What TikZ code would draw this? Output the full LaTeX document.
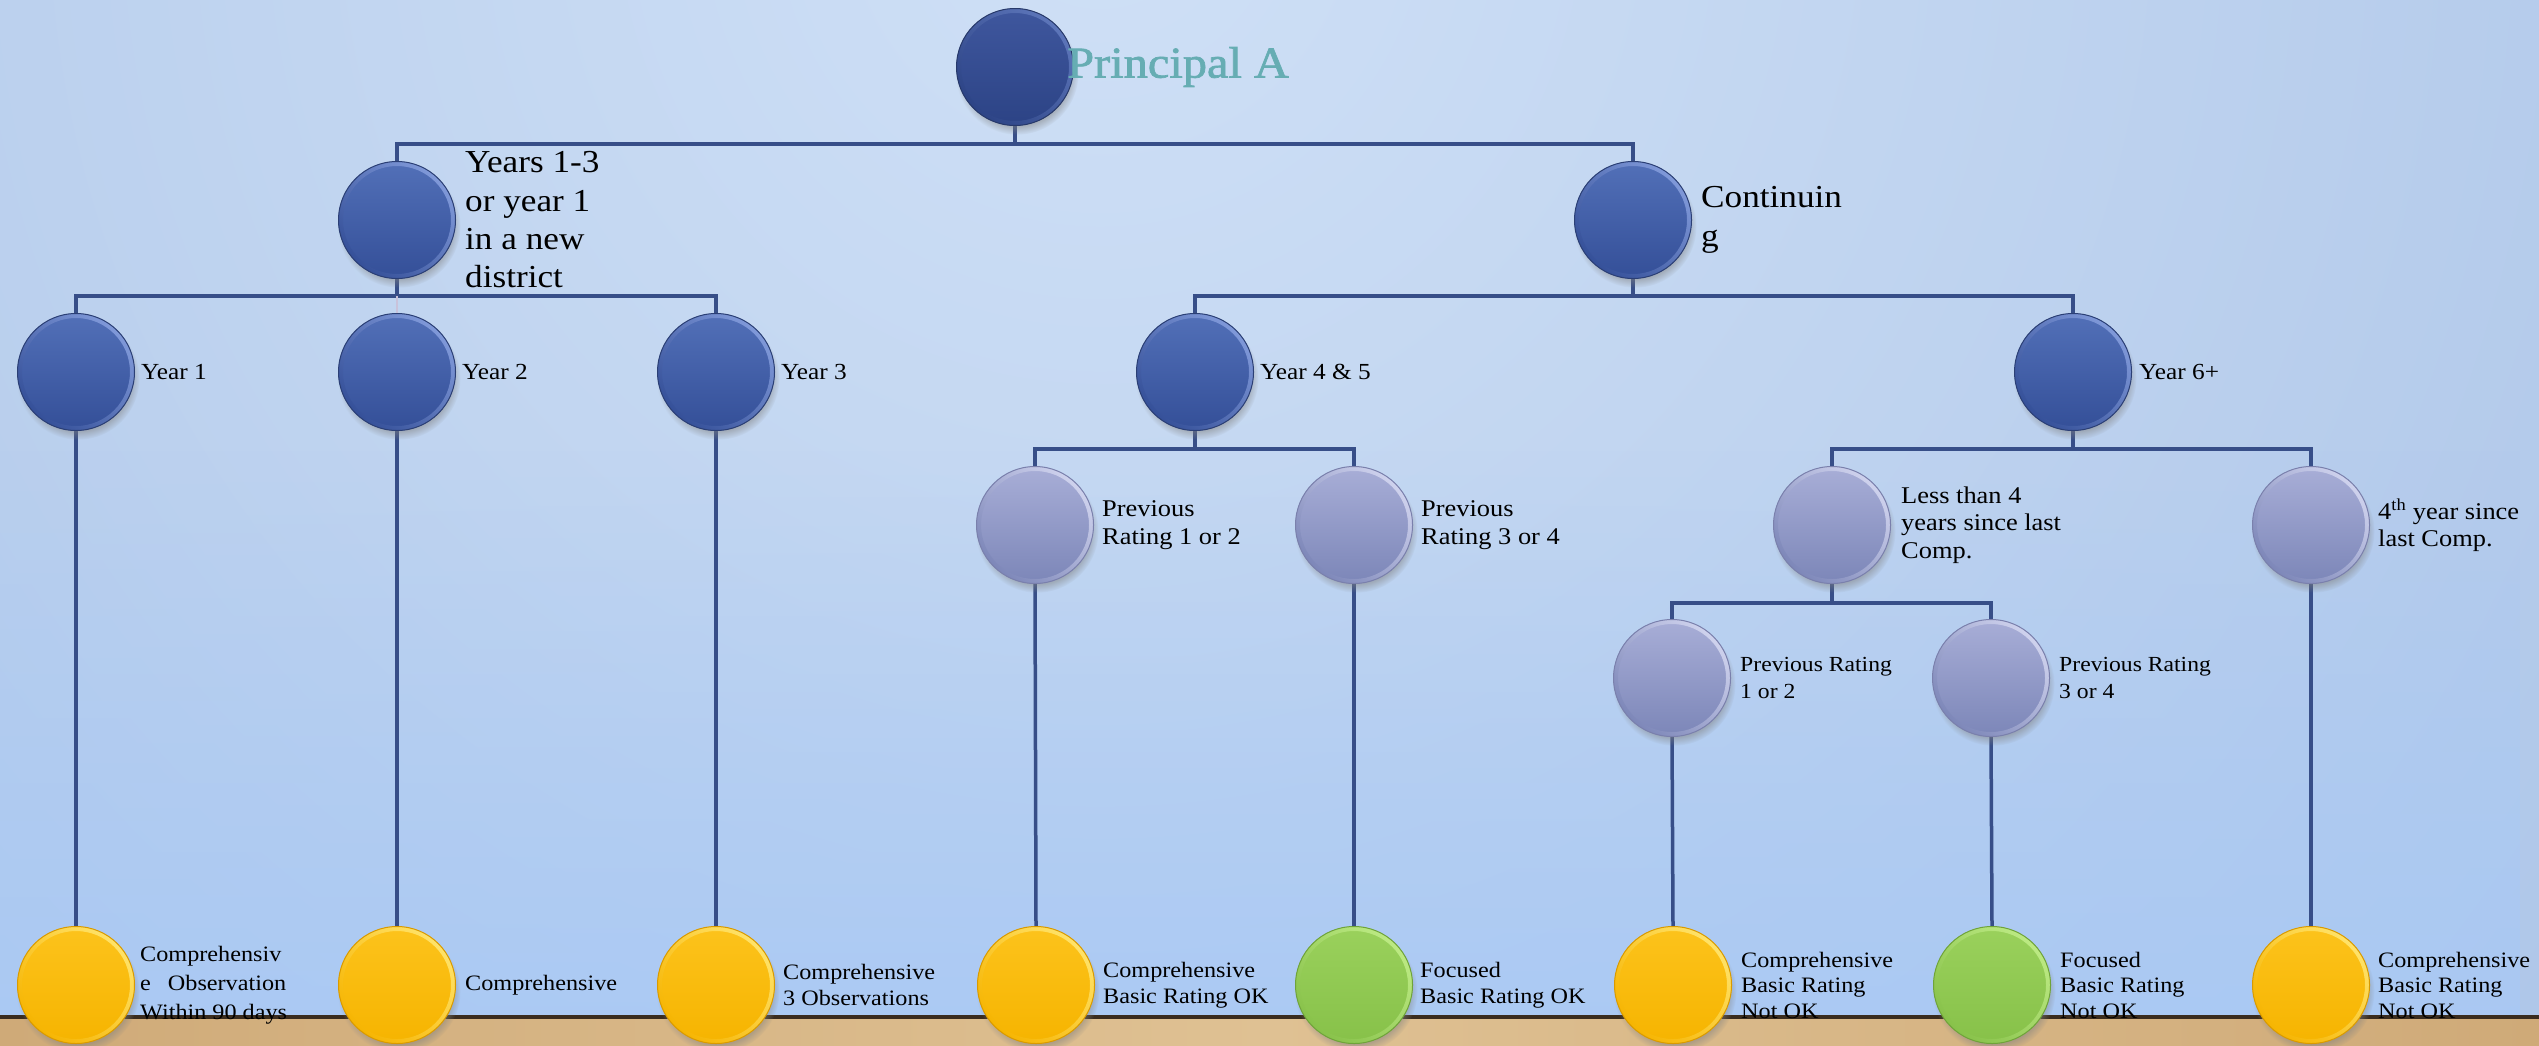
\documentclass[tikz,border=0pt]{standalone}
\usepackage{fontspec}
\setmainfont{Liberation Serif}[FakeStretch=1.1]
\newfontfamily\princfont{Liberation Serif}[FakeStretch=1.1, FakeBold=1.6]
\usetikzlibrary{shadows,fadings,positioning}
\pgfdeclarelayer{bg}
\pgfsetlayers{bg,main}
\definecolor{bgIn}{HTML}{CFE0F6}
\definecolor{bgOut}{HTML}{9CB8E1}
\definecolor{bgBot}{HTML}{A9C9F5}
\definecolor{floorA}{HTML}{CFAA78}
\definecolor{floorB}{HTML}{DFC193}
\definecolor{floorLine}{HTML}{3A2C1E}
\definecolor{connC}{HTML}{374E88}
\definecolor{faintC}{HTML}{C9C2DA}
\definecolor{teal}{HTML}{66ADB3}
% discs
\definecolor{bT}{HTML}{5270B8}\definecolor{bB}{HTML}{344F98}\definecolor{bR}{HTML}{819ADA}\definecolor{bO}{HTML}{2B3F75}
\definecolor{pT}{HTML}{3F579E}\definecolor{pB}{HTML}{2C4385}\definecolor{pR}{HTML}{5D76BA}\definecolor{pO}{HTML}{27396A}
\definecolor{vT}{HTML}{A8AED7}\definecolor{vB}{HTML}{7C86B8}\definecolor{vR}{HTML}{D0D3EE}\definecolor{vO}{HTML}{7A80AC}
\definecolor{yT}{HTML}{FCC31C}\definecolor{yB}{HTML}{F6B400}\definecolor{yR}{HTML}{FFE36A}\definecolor{yO}{HTML}{D99A00}
\definecolor{gT}{HTML}{9AD15C}\definecolor{gB}{HTML}{87C149}\definecolor{gR}{HTML}{BDEA84}\definecolor{gO}{HTML}{6FA33A}
\tikzset{
  disc/.style n args={4}{circle, minimum size=117pt, inner sep=0pt, draw=#4, line width=1pt,
    top color=#1, bottom color=#2,
    circular drop shadow={shadow xshift=2pt, shadow yshift=-6pt, shadow scale=1.05, opacity=0.5},
    path picture={\shade[even odd rule, top color=#3, bottom color=#2, shading angle=-45]
      (path picture bounding box.center) circle (60pt) (path picture bounding box.center) circle (54pt);}},
  bdisc/.style={disc={bT}{bB}{bR}{bO}},
  pdisc/.style={disc={pT}{pB}{pR}{pO}},
  vdisc/.style={disc={vT}{vB}{vR}{vO}},
  ydisc/.style={disc={yT}{yB}{yR}{yO}},
  gdisc/.style={disc={gT}{gB}{gR}{gO}},
  lbl/.style={anchor=west, inner sep=0pt, align=left, text=black},
  fA/.style={lbl, font={\fontsize{32}{38.3}\selectfont}},
  fB/.style={lbl, font={\fontsize{23}{28}\selectfont}},
  fC/.style={lbl, font={\fontsize{24}{27.5}\selectfont}},
  fD/.style={lbl, font={\fontsize{21.5}{27}\selectfont}},
  fE/.style={lbl, font={\fontsize{22}{25.5}\selectfont}},
  conn/.style={draw=connC, line width=3.5pt},
  faintconn/.style={draw=faintC, line width=2pt},
}
\begin{document}
\begin{tikzpicture}[x=1pt,y=-1pt]
\useasboundingbox (0,0) rectangle (2539,1045);
% background
\begin{pgfonlayer}{bg}
\begin{scope}
  \clip (0,0) rectangle (2539,1017);
  \shade[inner color=bgIn, outer color=bgOut] (1100,-100) circle (2900);
  \fill[bgBot, opacity=0.85, path fading=north] (0,450) rectangle (2539,1017);
\end{scope}
\shade[left color=floorA, right color=floorA, middle color=floorB] (0,1017) rectangle (2539,1045);
\fill[floorLine] (0,1015) rectangle (2539,1019);
\end{pgfonlayer}

% nodes
\node[pdisc] (P) at (1015,67) {};
\node[bdisc] (A) at (397,220) {};
\node[bdisc] (C) at (1633,220) {};
\node[bdisc] (Y1) at (76,372) {};
\node[bdisc] (Y2) at (397,372) {};
\node[bdisc] (Y3) at (716,372) {};
\node[bdisc] (Y45) at (1195,372) {};
\node[bdisc] (Y6) at (2073,372) {};
\node[vdisc] (R12) at (1035,525) {};
\node[vdisc] (R34) at (1354,525) {};
\node[vdisc] (LT) at (1832,525) {};
\node[vdisc] (FY) at (2311,525) {};
\node[vdisc] (Q12) at (1672,678) {};
\node[vdisc] (Q34) at (1991,678) {};
\node[ydisc] (L1) at (76,985) {};
\node[ydisc] (L2) at (397,985) {};
\node[ydisc] (L3) at (716,985) {};
\node[ydisc] (L4) at (1036,985) {};
\node[gdisc] (L5) at (1354,985) {};
\node[ydisc] (L6) at (1673,985) {};
\node[gdisc] (L7) at (1992,985) {};
\node[ydisc] (L8) at (2311,985) {};

% labels
\node[lbl, text=teal, font={\princfont\fontsize{44}{50}\selectfont}] (tP) at ([xshift=-7pt]P.east) {Principal A};
\node[fA, right=9pt of A] (tA) {Years 1-3\\or year 1\\in a new\\district};
\node[fA, right=9pt of C] (tC) {Continuin\\g};
\node[fB, right=6pt of Y1] (tY1) {Year 1};
\node[fB, right=6pt of Y2] (tY2) {Year 2};
\node[fB, right=6pt of Y3] (tY3) {Year 3};
\node[fB, right=6pt of Y45] (tY45) {Year 4 \& 5};
\node[fB, right=7pt of Y6] (tY6) {Year 6+};
\node[fC, right=8pt of R12] (tR12) {Previous\\Rating 1 or 2};
\node[fC, right=8pt of R34] (tR34) {Previous\\Rating 3 or 4};
\node[fC, right=10pt of LT] (tLT) {Less than 4\\years since last\\Comp.};
\node[fC, right=8pt of FY] (tFY) {4\textsuperscript{th} year since\\last Comp.};
\node[fD, right=9pt of Q12] (tQ12) {Previous Rating\\1 or 2};
\node[fD, right=9pt of Q34] (tQ34) {Previous Rating\\3 or 4};
\node[fE, right=5pt of L1, font={\fontsize{22}{29}\selectfont}] (tL1) {Comprehensiv\\e\hspace{17pt}Observation\\Within 90 days};
\node[fE, right=9pt of L2] (tL2) {Comprehensive};
\node[fE, right=8pt of L3] (tL3) {Comprehensive\\3 Observations};
\node[fE, right=8pt of L4] (tL4) {Comprehensive\\Basic Rating OK};
\node[fE, right=7pt of L5] (tL5) {Focused\\Basic Rating OK};
\node[fE, right=9pt of L6] (tL6) {Comprehensive\\Basic Rating\\Not OK};
\node[fE, right=9pt of L7] (tL7) {Focused\\Basic Rating\\Not OK};
\node[fE, right=8pt of L8] (tL8) {Comprehensive\\Basic Rating\\Not OK};

% connectors
\begin{pgfonlayer}{bg}
\draw[conn] (P.south) -- ++(0,18) -| (A.north);
\draw[conn] (P.south) -- ++(0,18) -| (C.north);
\draw[conn] (A.south) -- ++(0,17) -| (Y1.north);
\draw[conn] (A.south) -- ++(0,17) -| (Y3.north);
\draw[faintconn] ([yshift=-17pt]A.south) -- (Y2.north);
\draw[conn] (C.south) -- ++(0,17) -| (Y45.north);
\draw[conn] (C.south) -- ++(0,17) -| (Y6.north);
\draw[conn] (Y45.south) -- ++(0,18) -| (R12.north);
\draw[conn] (Y45.south) -- ++(0,18) -| (R34.north);
\draw[conn] (Y6.south) -- ++(0,18) -| (LT.north);
\draw[conn] (Y6.south) -- ++(0,18) -| (FY.north);
\draw[conn] (LT.south) -- ++(0,19) -| (Q12.north);
\draw[conn] (LT.south) -- ++(0,19) -| (Q34.north);
\draw[conn] (Y1.south) -- (L1.north);
\draw[conn] (Y2.south) -- (L2.north);
\draw[conn] (Y3.south) -- (L3.north);
\draw[conn] (R12.south) -- (L4.north);
\draw[conn] (R34.south) -- (L5.north);
\draw[conn] (Q12.south) -- (L6.north);
\draw[conn] (Q34.south) -- (L7.north);
\draw[conn] (FY.south) -- (L8.north);
\end{pgfonlayer}
\end{tikzpicture}
\end{document}
